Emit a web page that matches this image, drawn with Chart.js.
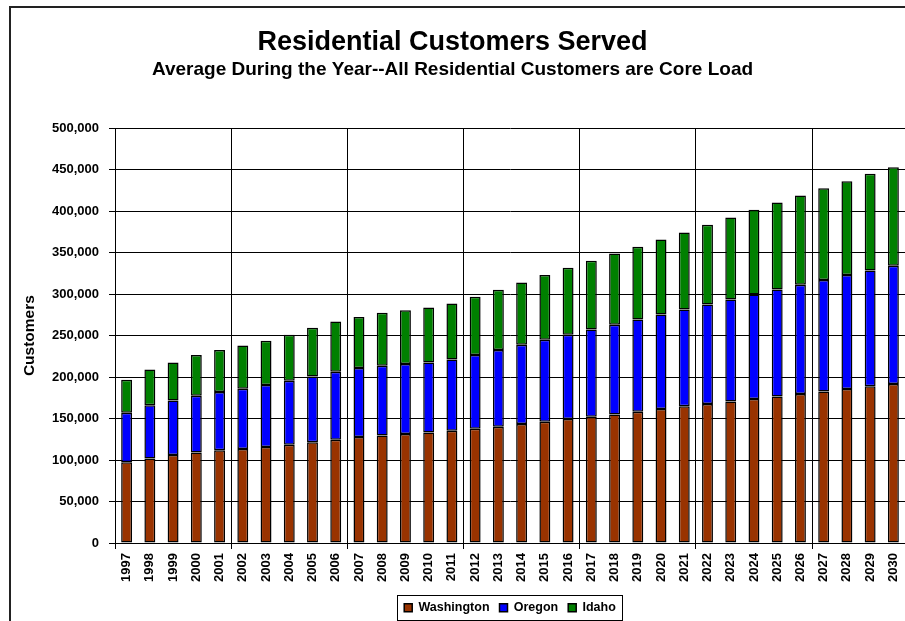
<!DOCTYPE html>
<html>
<head>
<meta charset="utf-8">
<title>Residential Customers Served</title>
<script src="https://cdn.jsdelivr.net/npm/chart.js@4"></script>
<style>
  html, body { margin: 0; padding: 0; background: #fff; }
  #wrap { position: relative; width: 905px; height: 621px; overflow: hidden; }
  #marco { position: absolute; left: 9px; top: 6px; width: 1000px; height: 1000px;
           border-left: 2px solid #222; border-top: 2px solid #222; }
  canvas { position: absolute; left: 0; top: 0; }
</style>
</head>
<body>
<div id="wrap">
  <div id="marco"></div>
  <canvas id="grafico" width="905" height="621"></canvas>
</div>
<script>
// ── DATOS ────────────────────────────────────────────
const anios = ['1997','1998','1999','2000','2001','2002','2003','2004','2005','2006',
  '2007','2008','2009','2010','2011','2012','2013','2014','2015','2016',
  '2017','2018','2019','2020','2021','2022','2023','2024','2025','2026',
  '2027','2028','2029','2030'];

const washington = [97200, 102000, 106000, 109200, 111700, 113300, 115700, 118500, 121300, 124500,
  127700, 129700, 131300, 133300, 135300, 137800, 140200, 143400, 146200, 149400,
  152200, 155000, 158200, 161400, 164700, 167500, 170700, 173500, 176700, 179500,
  182700, 185500, 188800, 191600];

const oregon = [59800, 63900, 65900, 68300, 70200, 72600, 74700, 77100, 79500, 81900,
  83100, 83900, 84400, 84400, 86000, 88700, 92300, 95500, 98800, 101600,
  105200, 108000, 111300, 114100, 116900, 120100, 122900, 126100, 128900, 131700,
  134200, 137400, 139700, 142500];

const idaho = [39800, 43300, 45800, 49000, 50600, 52300, 53400, 55400, 58600, 60700,
  61700, 63900, 65000, 66300, 67500, 70300, 72700, 75200, 77900, 80700,
  82700, 86000, 87500, 90400, 92700, 95900, 98800, 102000, 104900, 107700,
  110800, 113200, 116500, 118900];

const ejeMin = 0, ejeMax = 500000, ejePaso = 50000;

// ── ESTILO ───────────────────────────────────────────
Chart.defaults.font.family = '"Liberation Sans", Arial, sans-serif';
Chart.defaults.color = '#000';
const negrita = (size) => ({ size, weight: 'bold' });

// marco alrededor de la leyenda
const marcoLeyenda = {
  id: 'marcoLeyenda',
  afterDraw(chart) {
    const lg = chart.legend;
    if (!lg || !lg.legendHitBoxes.length) return;
    const hb = lg.legendHitBoxes;
    const izq = Math.min(...hb.map(h => h.left)) - 7;
    const der = Math.max(...hb.map(h => h.left + h.width)) + 6;
    const arr = hb[0].top - 7;
    const aba = hb[0].top + hb[0].height + 5;
    const c = chart.ctx;
    c.save();
    c.strokeStyle = '#000';
    c.lineWidth = 1;
    c.strokeRect(Math.round(izq) + 0.5, Math.round(arr) + 0.5, Math.round(der - izq), Math.round(aba - arr));
    c.restore();
  }
};

const serie = (label, data, color) => ({
  label, data, backgroundColor: color,
  borderColor: '#000', borderWidth: 1.5, borderSkipped: false, inflateAmount: 0,
  barPercentage: 0.47, categoryPercentage: 1
});

// ── GRÁFICO ──────────────────────────────────────────
new Chart(document.getElementById('grafico'), {
  type: 'bar',
  data: {
    labels: anios,
    datasets: [
      serie('Washington', washington, '#993300'),
      serie('Oregon', oregon, '#0000ff'),
      serie('Idaho', idaho, '#008000'),
    ]
  },
  options: {
    responsive: false,
    animation: false,
    layout: { padding: { top: 0, left: 0, right: 0, bottom: -3 } },
    plugins: {
      title: { display: true, text: 'Residential Customers Served', color: '#000',
               font: negrita(27), padding: { top: 26, bottom: 0 } },
      subtitle: { display: true, text: 'Average During the Year--All Residential Customers are Core Load',
                  color: '#000', font: negrita(19), padding: { top: 0, bottom: 47 } },
      legend: { position: 'bottom', fullSize: false,
                labels: { boxWidth: 8, boxHeight: 8, padding: 10, color: '#000', font: negrita(12.5) } },
      tooltip: { enabled: false }
    },
    scales: {
      x: {
        stacked: true,
        grid: { offset: true, tickLength: 6, lineWidth: 1,
                color: c => (c.index !== undefined && c.index % 5 === 0) ? '#000' : 'rgba(0,0,0,0)' },
        border: { color: '#000', width: 1 },
        ticks: { autoSkip: false, minRotation: 90, maxRotation: 90, padding: 4, color: '#000', font: negrita(13) },
        afterFit: s => { s.height = 48.5; s.paddingLeft = 0; s.paddingRight = 0; }
      },
      y: {
        stacked: true, min: ejeMin, max: ejeMax,
        grid: { color: '#000', tickLength: 6, lineWidth: 1 },
        border: { color: '#000', width: 1 },
        ticks: { stepSize: ejePaso, padding: 10, color: '#000', font: negrita(13),
                 callback: v => v.toLocaleString('en-US') },
        title: { display: true, text: 'Customers', color: '#000', font: negrita(15.5), padding: { top: 20, bottom: 0 } },
        afterFit: s => { s.width = 115; }
      }
    }
  },
  plugins: [marcoLeyenda]
});
</script>
</body>
</html>
